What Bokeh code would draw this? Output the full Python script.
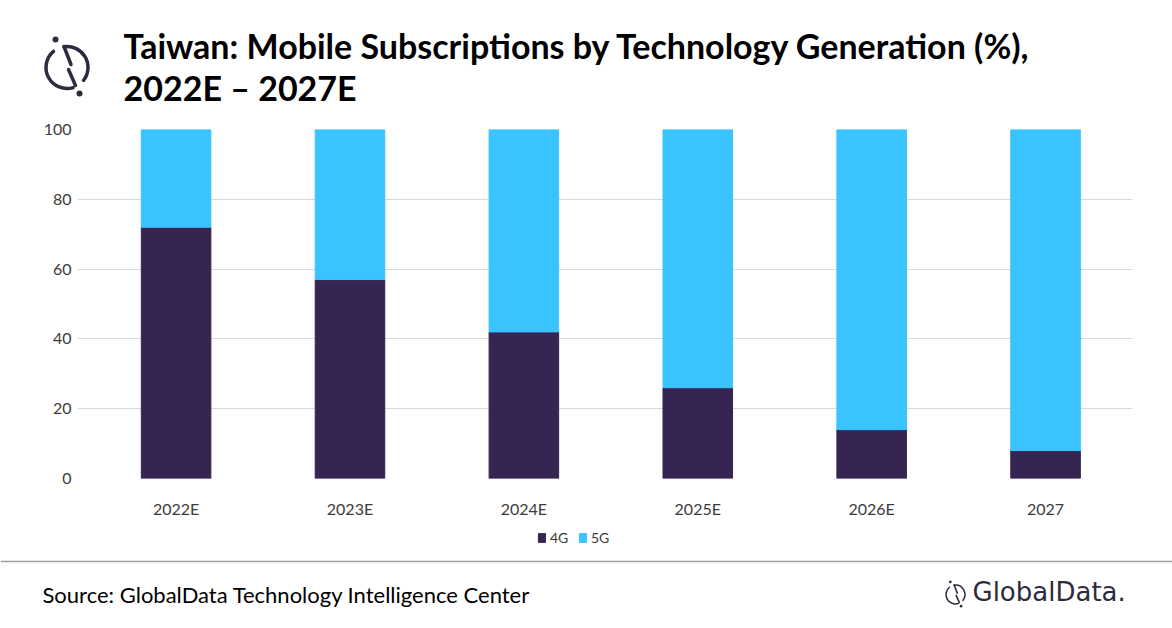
import math

from bokeh.core.properties import value
from bokeh.embed import file_html
from bokeh.layouts import column
from bokeh.models import ColumnDataSource, FixedTicker, Legend, LegendItem, Range1d
from bokeh.plotting import figure
from bokeh.resources import INLINE

# data
years = ["2022E", "2023E", "2024E", "2025E", "2026E", "2027"]
share_4g = [72, 57, 42, 26, 14, 8]
share_5g = [28, 43, 58, 74, 86, 92]
y_ticks = [0, 20, 40, 60, 80, 100]
series = ["4G", "5G"]
colors = ["#362453", "#39C4FF"]

title_lines = ["Taiwan: Mobile Subscriptions by Technology Generation (%),",
               "2022E \u2013 2027E"]
source_text = "Source: GlobalData Technology Intelligence Center"
brand = "GlobalData."

W = 1172
INK = "#2f2a3d"
LABEL = "#3b3b3b"


def no_frame_align(p):
    # keep bokeh from lining up the frames of the stacked figures
    if "frame_align" in p.properties():
        p.frame_align = False


def strip(top, bottom):
    # a figure whose data units are page pixels (y negated so up is up)
    p = figure(width=W, height=bottom - top,
               x_range=Range1d(0, W), y_range=Range1d(-bottom, -top),
               x_axis_location=None, y_axis_location=None,
               output_backend="svg", toolbar_location=None, min_border=0)
    p.grid.visible = False
    p.outline_line_color = None
    no_frame_align(p)
    return p


def draw_logo(p, cx, cy, s):
    lw = 3.5 * s
    r = 21 * s
    p.arc(x=[cx, cx], y=[-cy, -cy], radius=r,
          start_angle=[math.radians(130), math.radians(-38)],
          end_angle=[math.radians(287), math.radians(98)],
          line_width=lw, line_color=INK, line_cap="round")
    p.segment(x0=[cx - 3 * s, cx + 1.5 * s], y0=[-(cy - 21 * s), -(cy + 2 * s)],
              x1=[cx + 4 * s, cx + 8.5 * s], y1=[-(cy - 3 * s), -(cy + 18 * s)],
              line_width=lw, line_color=INK, line_cap="round")
    p.circle(x=[cx - 11.5 * s, cx + 12.5 * s], y=[-(cy - 28 * s), -(cy + 26 * s)],
             radius=3 * s, fill_color=INK, line_color=None)


# header: logo + title
header = strip(0, 115)
draw_logo(header, 66.5, 67, 1.0)
header.text(x=[123, 123], y=[-45, -87], text=title_lines,
            text_font=value("Lato"), text_font_style="bold", text_font_size="34px",
            text_color="#000000", text_baseline="middle", text_align="left")

# chart
idx = list(range(len(years)))
source = ColumnDataSource(data={"x": idx, "4G": share_4g, "5G": share_5g})

chart = figure(width=W, height=405,
               x_range=Range1d(-0.567, len(years) - 0.5), y_range=Range1d(0, 100),
               output_backend="svg", toolbar_location=None,
               min_border_left=77, min_border_right=40,
               min_border_top=14, min_border_bottom=41)
chart.outline_line_color = None
no_frame_align(chart)
bars = chart.vbar_stack(series, x="x", width=0.4, color=colors, source=source)

chart.xgrid.visible = False
chart.ygrid.ticker = FixedTicker(ticks=y_ticks)
chart.ygrid.grid_line_color = "#d9d9d9"
chart.ygrid.grid_line_width = 1

chart.yaxis.ticker = FixedTicker(ticks=y_ticks)
chart.xaxis.ticker = FixedTicker(ticks=idx)
chart.xaxis.major_label_overrides = {i: y for i, y in enumerate(years)}
for ax in (chart.xaxis, chart.yaxis):
    ax.axis_line_color = None
    ax.major_tick_line_color = None
    ax.minor_tick_line_color = None
    ax.major_label_text_font = "Lato"
    ax.major_label_text_font_size = "16px"
    ax.major_label_text_color = LABEL
chart.xaxis.major_label_standoff = 14
chart.yaxis.major_label_standoff = 0

# footer: legend, rule, source, brand
footer = strip(520, 628)
# swatch renderers parked far off-canvas so the legend has something to draw
swatches = [footer.vbar(x=[-5000], bottom=[-5001], top=[-5000], width=1, color=c)
            for c in colors]
legend = Legend(items=[LegendItem(label=n, renderers=[r]) for n, r in zip(series, swatches)],
                orientation="horizontal", location=(537, 82),
                glyph_width=9, glyph_height=11, label_height=11,
                label_standoff=4, spacing=8, padding=0, margin=0,
                border_line_color=None, background_fill_alpha=0,
                label_text_font="Lato", label_text_font_size="14px",
                label_text_color=LABEL)
footer.add_layout(legend, "center")

footer.segment(x0=[0], y0=[-561], x1=[W], y1=[-561],
               line_color="#a0a0a0", line_width=1.5)
footer.text(x=[42], y=[-594], text=[source_text],
            text_font=value("Lato"), text_font_size="22px", text_color="#000000",
            text_baseline="middle", text_align="left")
draw_logo(footer, 955, 594, 0.45)
footer.text(x=[972], y=[-591.5], text=[brand],
            text_font=value("DejaVu Sans"), text_font_size="26px", text_color=INK,
            text_baseline="middle", text_align="left")

layout = column(header, chart, footer)
open("out.html", "w").write(file_html(layout, INLINE))
